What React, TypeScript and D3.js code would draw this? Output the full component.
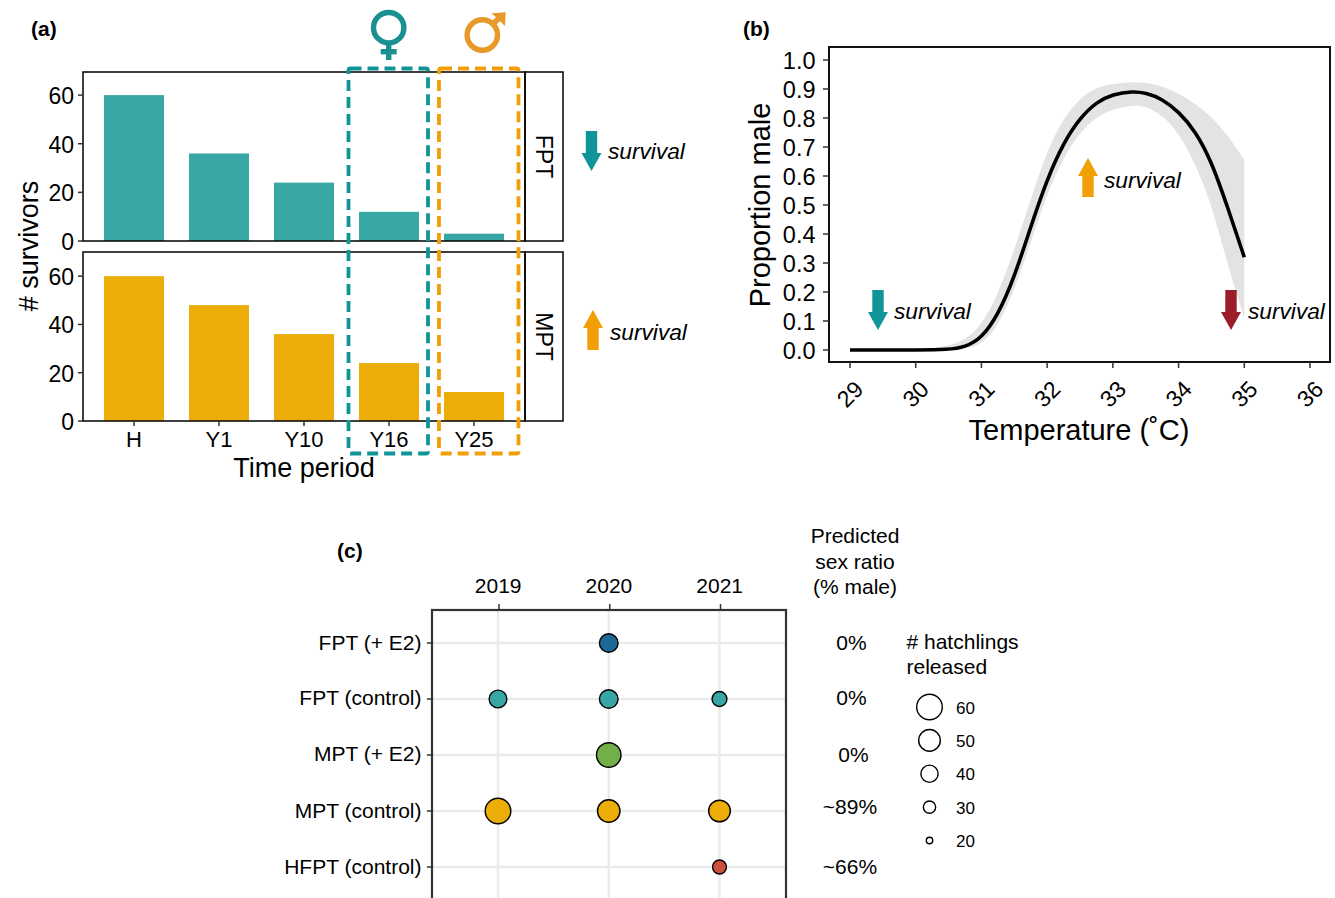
import React from "react";
import * as d3 from "d3";

const periods = ["H", "Y1", "Y10", "Y16", "Y25"];
const fptSurvivors = [60, 36, 24, 12, 3];
const mptSurvivors = [60, 48, 36, 24, 12];
const survivorTicks = [0, 20, 40, 60];

const temps = [29, 29.5, 30, 30.5, 30.75, 31, 31.25, 31.5, 31.75, 32, 32.25, 32.5, 32.75, 33, 33.3, 33.5, 33.75, 34, 34.25, 34.5, 34.75, 35];
const propMale = [0, 0, 0, 0.001, 0.01, 0.04, 0.12, 0.25, 0.425, 0.59, 0.715, 0.8, 0.855, 0.882, 0.892, 0.887, 0.866, 0.822, 0.757, 0.652, 0.49, 0.32];
const propLower = [0, 0, 0, 0, 0.004, 0.018, 0.08, 0.205, 0.37, 0.54, 0.665, 0.75, 0.805, 0.83, 0.845, 0.84, 0.81, 0.75, 0.645, 0.505, 0.29, 0.11];
const propUpper = [0, 0, 0, 0.012, 0.035, 0.085, 0.19, 0.345, 0.52, 0.69, 0.8, 0.87, 0.905, 0.918, 0.925, 0.922, 0.91, 0.885, 0.85, 0.805, 0.74, 0.655];
const tempTicks = [29, 30, 31, 32, 33, 34, 35, 36];
const propTicks = [0, 0.1, 0.2, 0.3, 0.4, 0.5, 0.6, 0.7, 0.8, 0.9, 1];

const years = ["2019", "2020", "2021"];
const groups = ["FPT (+ E2)", "FPT (control)", "MPT (+ E2)", "MPT (control)", "HFPT (control)"];
const ratios = ["0%", "0%", "0%", "~89%", "~66%"];
const ratioX = [851.5, 851.5, 853.5, 850, 850];
const ratioDy = [0, -1, 0, -4, 0];
const groupDy = [0, -1.5, -1, 0, 0];
const hatchYears = ["2020", "2019", "2020", "2021", "2020", "2019", "2020", "2021", "2021"];
const hatchGroups = ["FPT (+ E2)", "FPT (control)", "FPT (control)", "FPT (control)", "MPT (+ E2)", "MPT (control)", "MPT (control)", "MPT (control)", "HFPT (control)"];
const hatchCounts = [43, 41, 43, 35, 57, 60, 52, 50, 33];
const hatchColors = ["#1D6996", "#38A6A5", "#38A6A5", "#38A6A5", "#73AF48", "#EDAD08", "#EDAD08", "#EDAD08", "#CC503E"];
const legendSizes = [60, 50, 40, 30, 20];

const FONT = "'Liberation Sans', Arial, sans-serif";
const TEAL = "#38A6A5";
const AMBER = "#EDAD08";
const TEAL_D = "#0F9598";
const ORANGE = "#F29F05";
const RED = "#9B1D2A";

function Arrow({ cx, y0, y1, color }: { cx: number; y0: number; y1: number; color: string }) {
  const dir = y1 > y0 ? 1 : -1;
  const headStart = y1 - dir * 18;
  const d = `M${cx - 5.7},${y0}L${cx + 5.7},${y0}L${cx + 5.7},${headStart}L${cx + 10},${headStart}L${cx},${y1}L${cx - 10},${headStart}L${cx - 5.7},${headStart}Z`;
  return <path d={d} fill={color} />;
}

function Surv({ x, y }: { x: number; y: number }) {
  return <text x={x} y={y} fontSize={22.7} fontStyle="italic" fill="#000">survival</text>;
}

function BarPanel({ values, color, top, strip, maxV }: { values: number[]; color: string; top: number; strip: string; maxV: number }) {
  const left = 83, right = 525, stripR = 563, h = 169;
  const x = d3.scalePoint<string>().domain(periods).range([left, right]).padding(0.6);
  const y = d3.scaleLinear().domain([0, maxV]).range([top + h, top]);
  return (
    <g>
      {values.map((v, i) => (
        <rect key={i} x={x(periods[i])! - 30} width={60} y={y(v)} height={y(0) - y(v)} fill={color} />
      ))}
      <rect x={left} y={top} width={right - left} height={h} fill="none" stroke="#000" strokeWidth={1.5} />
      <rect x={right} y={top} width={stripR - right} height={h} fill="none" stroke="#000" strokeWidth={1.5} />
      <text transform={`translate(536,${top + h / 2}) rotate(90)`} textAnchor="middle" fontSize={23}>{strip}</text>
      {survivorTicks.map((t) => (
        <g key={t}>
          <line x1={left - 5} x2={left} y1={y(t)} y2={y(t)} stroke="#333" strokeWidth={1.5} />
          <text x={left - 9} y={y(t) + 9} textAnchor="end" fontSize={23}>{t}</text>
        </g>
      ))}
    </g>
  );
}

export default function App() {
  const xBar = d3.scalePoint<string>().domain(periods).range([83, 525]).padding(0.6);

  const xT = d3.scaleLinear().domain([29, 36]).range([850, 1310]);
  const yP = d3.scaleLinear().domain([0, 1]).range([350, 60]);
  const curve = d3.curveBasis;
  const line = d3.line<number>().x((_, i) => xT(temps[i])).y((d) => yP(d)).curve(curve);
  const band = d3.area<number>().x((_, i) => xT(temps[i])).y0((_, i) => yP(propLower[i])).y1((d) => yP(d)).curve(curve);

  const xY = d3.scalePoint<string>().domain(years).range([498, 719.5]);
  const yG = d3.scalePoint<string>().domain(groups).range([643, 867]);
  const rS = d3.scalePow().exponent(0.5).domain([20, 60]).range([3.2, 12.8]);
  const legY = d3.scalePoint<string>().domain(legendSizes.map(String)).range([707, 840.5]);

  return (
    <svg width={1335} height={898} viewBox="0 0 1335 898" fontFamily={FONT} fill="#000"
      style={{ position: "absolute", left: 0, top: 0, display: "block", background: "#fff" }}>
      {/* (a) */}
      <text x={31} y={36} fontSize={21} fontWeight="bold">(a)</text>
      <BarPanel values={fptSurvivors} color={TEAL} top={72} strip="FPT" maxV={69.5} />
      <BarPanel values={mptSurvivors} color={AMBER} top={252} strip="MPT" maxV={70} />
      {periods.map((p) => (
        <g key={p}>
          <line x1={xBar(p)} x2={xBar(p)} y1={421} y2={426} stroke="#333" strokeWidth={1.5} />
          <text x={xBar(p)} y={447} textAnchor="middle" fontSize={22}>{p}</text>
        </g>
      ))}
      <text x={304} y={477} textAnchor="middle" fontSize={27}>Time period</text>
      <text transform="translate(38,246) rotate(-90)" textAnchor="middle" fontSize={27}># survivors</text>
      <rect x={348.5} y={68.5} width={79.5} height={385} rx={2} fill="none" stroke={TEAL_D} strokeWidth={3.8} strokeDasharray="11 6" />
      <rect x={439} y={68.5} width={79.5} height={385} rx={2} fill="none" stroke={ORANGE} strokeWidth={3.8} strokeDasharray="11 6" />
      {/* female */}
      <g stroke="#1B9092" fill="none" strokeWidth={5.4}>
        <circle cx={388.7} cy={27.7} r={15.2} />
        <line x1={388.7} x2={388.7} y1={42} y2={60} />
        <line x1={380.7} x2={396.7} y1={51.7} y2={51.7} />
      </g>
      {/* male */}
      <g stroke="#E89A28" fill="none" strokeWidth={5.4}>
        <circle cx={482.3} cy={35} r={15.2} />
        <line x1={493} x2={502} y1={24} y2={15} />
      </g>
      <path d="M491.7,13.3L505.7,12.3L505,26Z" fill="#E89A28" />
      <Arrow cx={591.5} y0={131} y1={171} color={TEAL_D} />
      <Surv x={608} y={159} />
      <Arrow cx={593} y0={350} y1={310} color={ORANGE} />
      <Surv x={610} y={340} />

      {/* (b) */}
      <text x={743} y={36} fontSize={21} fontWeight="bold">(b)</text>
      <path d={band(propUpper)!} fill="#E3E3E3" />
      <path d={line(propMale)!} fill="none" stroke="#000" strokeWidth={3.6} />
      <rect x={829} y={47} width={501} height={315} fill="none" stroke="#111" strokeWidth={2} />
      {propTicks.map((t) => (
        <g key={t}>
          <line x1={823} x2={829} y1={yP(t)} y2={yP(t)} stroke="#333" strokeWidth={1.5} />
          <text x={815.5} y={yP(t) + 9} textAnchor="end" fontSize={23.5}>{t.toFixed(1)}</text>
        </g>
      ))}
      {tempTicks.map((t) => (
        <g key={t}>
          <line x1={xT(t)} x2={xT(t)} y1={362} y2={368} stroke="#333" strokeWidth={1.5} />
          <text transform={`translate(${xT(t)},${394}) rotate(-45)`} textAnchor="middle" dy={8} fontSize={23}>{t}</text>
        </g>
      ))}
      <text x={1079} y={440} textAnchor="middle" fontSize={29}>Temperature (˚C)</text>
      <text transform="translate(769.5,205) rotate(-90)" textAnchor="middle" fontSize={29}>Proportion male</text>
      <Arrow cx={878} y0={290} y1={330} color={TEAL_D} />
      <Surv x={894} y={319} />
      <Arrow cx={1088} y0={197} y1={158} color={ORANGE} />
      <Surv x={1104} y={188} />
      <Arrow cx={1231} y0={290} y1={330} color={RED} />
      <Surv x={1248} y={319} />

      {/* (c) */}
      <text x={337} y={558} fontSize={21} fontWeight="bold">(c)</text>
      <text textAnchor="middle" fontSize={21}>
        <tspan x={855} y={543}>Predicted</tspan>
        <tspan x={855} y={569}>sex ratio</tspan>
        <tspan x={855} y={594}>(% male)</tspan>
      </text>
      {years.map((yr) => (
        <g key={yr}>
          <line x1={xY(yr)} x2={xY(yr)} y1={610} y2={898} stroke="#EBEBEB" strokeWidth={2.4} />
          <line x1={xY(yr)! + 1} x2={xY(yr)! + 1} y1={604} y2={610} stroke="#333" strokeWidth={1.5} />
          <text x={xY(yr)! + 0.2} y={593} textAnchor="middle" fontSize={21}>{yr}</text>
        </g>
      ))}
      {groups.map((g, i) => (
        <g key={g}>
          <line x1={432} x2={786} y1={yG(g)} y2={yG(g)} stroke="#EBEBEB" strokeWidth={2.4} />
          <line x1={427} x2={432} y1={yG(g)} y2={yG(g)} stroke="#333" strokeWidth={1.5} />
          <text x={421.5} y={yG(g)! + 7 + groupDy[i]} textAnchor="end" fontSize={21}>{g}</text>
          <text x={ratioX[i]} y={yG(g)! + 7 + ratioDy[i]} textAnchor="middle" fontSize={21}>{ratios[i]}</text>
        </g>
      ))}
      {hatchCounts.map((c, i) => (
        <circle key={i} cx={xY(hatchYears[i])} cy={yG(hatchGroups[i])} r={rS(c)} fill={hatchColors[i]} stroke="#000" strokeWidth={1.4} />
      ))}
      <rect x={432} y={610} width={354} height={300} fill="none" stroke="#333" strokeWidth={2.2} />
      <text fontSize={21}>
        <tspan x={906.5} y={648.5}># hatchlings</tspan>
        <tspan x={906.5} y={674}>released</tspan>
      </text>
      {legendSizes.map((s) => (
        <g key={s}>
          <circle cx={929.5} cy={legY(String(s))} r={rS(s)} fill="#fff" stroke="#000" strokeWidth={1.4} />
          <text x={956} y={legY(String(s))! + 6.5} fontSize={17}>{s}</text>
        </g>
      ))}
    </svg>
  );
}
